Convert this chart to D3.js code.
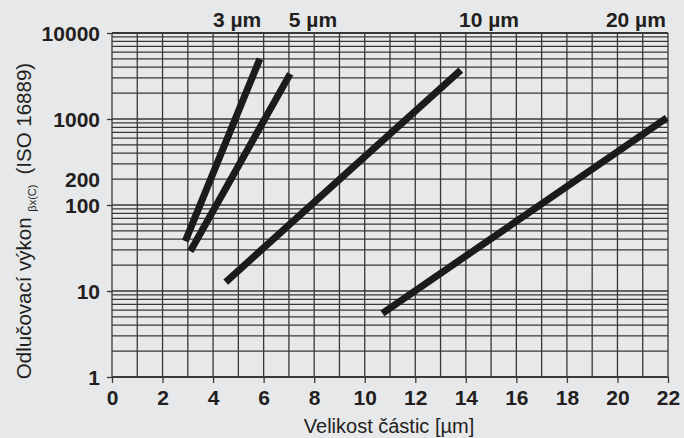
<!DOCTYPE html>
<html>
<head>
<meta charset="utf-8">
<script src="https://cdn.jsdelivr.net/npm/d3@7"></script>
<style>
  html, body { margin: 0; padding: 0; background: #e7e8e9; }
  svg { display: block; font-family: "Liberation Sans", Arial, sans-serif; }
</style>
</head>
<body>
<div id="chart"></div>
<script>
"use strict";

// particle size lines, one per filter grade
const grades = ["3 µm", "5 µm", "10 µm", "20 µm"];
const xFrom = [2.9, 3.1, 4.5, 10.7];
const yFrom = [38, 29, 12.7, 5.5];
const xTo = [5.85, 7.05, 13.8, 21.95];
const yTo = [5000, 3350, 3700, 1030];
const labelAt = [4.95, 7.95, 14.92, 20.73]; // label centre on x axis

const xTicks = [0, 2, 4, 6, 8, 10, 12, 14, 16, 18, 20, 22];
const yTicks = [1, 10, 100, 1000, 10000];
const yLabels = [1, 10, 100, 200, 1000, 10000];

const W = 684, H = 438;
const margin = { top: 33, right: 16, bottom: 61, left: 112 };
const w = W - margin.left - margin.right;
const h = H - margin.top - margin.bottom;

const svg = d3.select("#chart").append("svg")
  .attr("width", W)
  .attr("height", H);

const g = svg.append("g")
  .attr("transform", `translate(${margin.left},${margin.top})`);

const x = d3.scaleLinear().domain([0, 22]).range([0, w]);
const y = d3.scaleLog().domain([1, 10000]).range([h, 0]);

const gridColor = "#383838";

// vertical grid, every 1 µm
g.append("g")
  .selectAll("line")
  .data(d3.range(0, 23))
  .enter()
  .append("line")
  .attr("x1", (d) => x(d))
  .attr("x2", (d) => x(d))
  .attr("y1", 0)
  .attr("y2", h)
  .attr("stroke", gridColor)
  .attr("stroke-width", 1.3);

// horizontal log grid
let hLines = [];
for (let dec = 1; dec < 10000; dec *= 10) {
  for (let k = 1; k < 10; k++) hLines.push(dec * k);
}
hLines.push(10000);

g.append("g")
  .selectAll("line")
  .data(hLines)
  .enter()
  .append("line")
  .attr("x1", 0)
  .attr("x2", w)
  .attr("y1", (d) => y(d))
  .attr("y2", (d) => y(d))
  .attr("stroke", gridColor)
  .attr("stroke-width", (d) => (d === 1 || d === 10000 ? 1.8 : 1.3));

// x axis
const xAxis = g.append("g")
  .attr("transform", `translate(0,${h})`)
  .call(d3.axisBottom(x).tickValues(xTicks).tickSize(6).tickPadding(7))
  .call((s) => s.select(".domain").remove());
xAxis.selectAll("line").attr("stroke", gridColor).attr("stroke-width", 1.3);
xAxis.selectAll("text")
  .attr("fill", "#231f20")
  .style("font-size", "21px")
  .style("font-weight", "bold");

// y axis ticks
const yAxis = g.append("g")
  .call(d3.axisLeft(y).tickValues(yTicks).tickSize(5).tickFormat(""))
  .call((s) => s.select(".domain").remove());
yAxis.selectAll("line").attr("stroke", gridColor).attr("stroke-width", 1.3);

g.append("g")
  .selectAll("text")
  .data(yLabels)
  .enter()
  .append("text")
  .attr("x", -12)
  .attr("y", (d) => y(d))
  .attr("dy", "0.36em")
  .attr("text-anchor", "end")
  .attr("fill", "#231f20")
  .style("font-size", "21px")
  .style("font-weight", "bold")
  .text((d) => d);

// the thick lines
g.append("g")
  .selectAll("line")
  .data(grades)
  .enter()
  .append("line")
  .attr("x1", (d, i) => x(xFrom[i]))
  .attr("y1", (d, i) => y(yFrom[i]))
  .attr("x2", (d, i) => x(xTo[i]))
  .attr("y2", (d, i) => y(yTo[i]))
  .attr("stroke", "#1c1a1b")
  .attr("stroke-width", 7);

// grade labels above the plot
g.append("g")
  .selectAll("text")
  .data(grades)
  .enter()
  .append("text")
  .attr("x", (d, i) => x(labelAt[i]))
  .attr("y", -6)
  .attr("text-anchor", "middle")
  .attr("fill", "#231f20")
  .style("font-size", "21px")
  .style("font-weight", "bold")
  .text((d) => d);

// axis titles
svg.append("text")
  .attr("x", 389)
  .attr("y", 433)
  .attr("text-anchor", "middle")
  .attr("fill", "#231f20")
  .style("font-size", "20px")
  .text("Velikost částic [µm]");

const yTitle = svg.append("text")
  .attr("transform", "translate(31,221) rotate(-90)")
  .attr("text-anchor", "middle")
  .attr("fill", "#231f20")
  .style("font-size", "20.5px");
yTitle.append("tspan").text("Odlučovací výkon ");
yTitle.append("tspan")
  .attr("dy", 5)
  .style("font-size", "11px")
  .text("βx(C)");
yTitle.append("tspan")
  .attr("dy", -5)
  .attr("dx", 10)
  .text("(ISO 16889)");
</script>
</body>
</html>
